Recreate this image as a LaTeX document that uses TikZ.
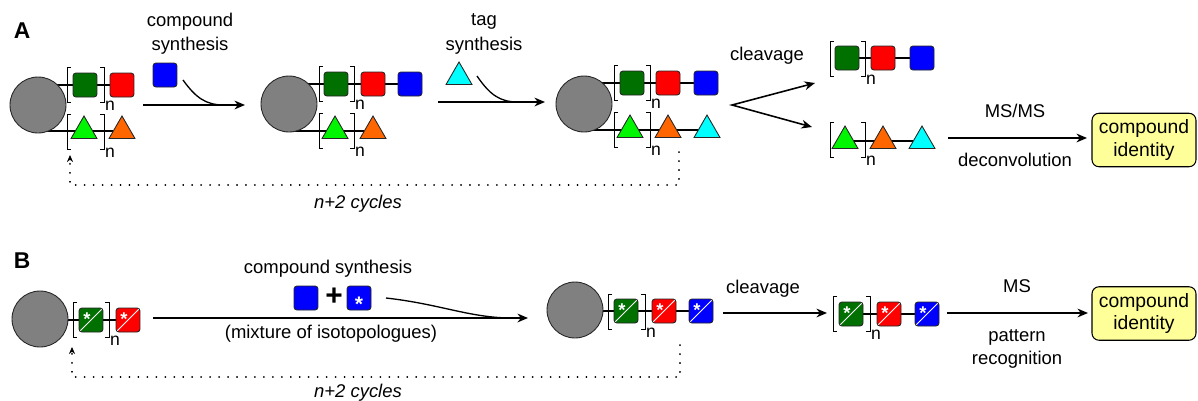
\documentclass[tikz,border=0pt]{standalone}
\usepackage{fontspec}
\setmainfont{Liberation Sans}
\usetikzlibrary{arrows.meta,shapes.geometric,backgrounds,calc}
\definecolor{dgreen}{RGB}{0,112,0}
\definecolor{lgreen}{RGB}{0,245,0}
\definecolor{myorange}{RGB}{255,102,0}
\definecolor{mycyan}{RGB}{0,255,255}
\definecolor{myred}{RGB}{255,0,0}
\definecolor{myblue}{RGB}{0,0,255}
\definecolor{beadgray}{RGB}{128,128,128}
\definecolor{boxyellow}{RGB}{255,255,153}
\newcommand\mybrk[4]{%
  \draw[brk] (#1+4,#3-17.5) -- (#1,#3-17.5) -- (#1,#3+17.5) -- (#1+4,#3+17.5);
  \draw[brk] (#2-4,#3-17.5) -- (#2,#3-17.5) -- (#2,#3+17.5) -- (#2-4,#3+17.5);
  \node[nlab] (#4) at (#2+6,#3+21) {n};
}
\tikzset{
  sq/.style={draw=black!85, line width=0.5pt, rounded corners=1.7pt, minimum size=0.48cm, inner sep=0pt},
  tri/.style={regular polygon, regular polygon sides=3, draw=black!85, line width=0.5pt, minimum size=0.6cm, inner sep=0pt},
  bead/.style={circle, draw=black!85, fill=beadgray, minimum size=1.12cm, inner sep=0pt, line width=0.5pt},
  chain/.style={line width=0.6pt},
  brk/.style={line width=0.5pt},
  rxn/.style={line width=0.9pt, -{Stealth[length=6pt,width=5pt]}},
  curv/.style={line width=0.75pt},
  lbl/.style={font=\fontsize{10.5}{12.5}\selectfont, inner sep=0pt, text height=6pt, text depth=0pt},
  nlab/.style={font=\fontsize{10}{12}\selectfont, inner sep=0pt},
  idbox/.style={draw, fill=boxyellow, rounded corners=4pt, minimum width=2.08cm, minimum height=1.07cm, align=center, font=\fontsize{11}{13}\selectfont, line width=0.6pt, inner sep=0pt},
  loop/.style={dash pattern=on 0.1pt off 5pt, line width=1pt, line cap=round, -{Stealth[length=4pt,width=3.5pt]}},
  star/.style={path picture={
    \draw[white, line width=0.5pt] (path picture bounding box.south west) -- (path picture bounding box.north east);
    \node[text=white, font=\bfseries\fontsize{10.5}{10.5}\selectfont, inner sep=0pt, anchor=base] at ([shift={(-0.08cm,-0.11cm)}]path picture bounding box.center) {*};}},
}
\begin{document}
\begin{tikzpicture}[x=0.02cm,y=-0.02cm]
\useasboundingbox (0,0) rectangle (1198,400);
\node[font=\bfseries\fontsize{13}{15}\selectfont, inner sep=0pt] (labA) at (22,31) {A};
\node[font=\bfseries\fontsize{13}{15}\selectfont, inner sep=0pt] (labB) at (22,261) {B};

% ---------- Panel A ----------
% stage 1
\node[bead] (a1c) at (38,105) {};
\node[sq, fill=dgreen] (a1g) at (85,85) {};
\node[sq, fill=myred] (a1r) at (122,85) {};
\node[tri, fill=lgreen] (a1tg) at (84,131) {};
\node[tri, fill=myorange] (a1to) at (122,131) {};
\mybrk{67}{104}{85}{a1n1}
\mybrk{67}{104}{131.5}{a1n2}
% reagent 1
\node[sq, fill=myblue] (a1b) at (165,75) {};
\node[lbl] (t1a) at (190,21) {compound};
\node[lbl] (t1b) at (190,45) {synthesis};
\coordinate (ar1s) at (143,105);
\coordinate (ar1e) at (245,105);
\draw[rxn] (ar1s) -- (ar1e);
\coordinate (cv1s) at (183,80);
\coordinate (cv1e) at (224,105);
\draw[curv] (cv1s) .. controls (196,98) and (206,105) .. (cv1e);
% stage 2
\node[bead] (a2c) at (289,104) {};
\node[sq, fill=dgreen] (a2g) at (336,84) {};
\node[sq, fill=myred] (a2r) at (373,84) {};
\node[sq, fill=myblue] (a2b) at (410,84) {};
\node[tri, fill=lgreen] (a2tg) at (335,131) {};
\node[tri, fill=myorange] (a2to) at (373,131) {};
\mybrk{319}{354}{84}{a2n1}
\mybrk{319}{354}{131}{a2n2}
% reagent 2
\node[tri, fill=mycyan] (a2cy) at (459,77) {};
\node[lbl] (t2a) at (484,20) {tag};
\node[lbl] (t2b) at (484,45) {synthesis};
\coordinate (ar2s) at (438,102);
\coordinate (ar2e) at (545,102);
\draw[rxn] (ar2s) -- (ar2e);
\coordinate (cv2s) at (477,76);
\coordinate (cv2e) at (518,102);
\draw[curv] (cv2s) .. controls (490,95) and (500,102) .. (cv2e);
% stage 3
\node[bead] (a3c) at (584,104) {};
\node[sq, fill=dgreen] (a3g) at (632,83) {};
\node[sq, fill=myred] (a3r) at (668,83) {};
\node[sq, fill=myblue] (a3b) at (706,83) {};
\node[tri, fill=lgreen] (a3tg) at (630,130) {};
\node[tri, fill=myorange] (a3to) at (668,130) {};
\node[tri, fill=mycyan] (a3tc) at (707,130) {};
\mybrk{614}{650}{83}{a3n1}
\mybrk{614}{650}{130}{a3n2}
% cleavage
\coordinate (vap) at (732,105);
\coordinate (vup) at (815,83);
\coordinate (vdn) at (812,127);
\draw[line width=0.9pt, {Stealth[length=6pt,width=5pt]}-{Stealth[length=6pt,width=5pt]}] (vup) -- (vap) -- (vdn);
\node[lbl] (tcl) at (767,55) {cleavage};
% products
\node[sq, fill=dgreen] (p1g) at (847,58) {};
\node[sq, fill=myred] (p1r) at (883,58) {};
\node[sq, fill=myblue] (p1b) at (922,58) {};
\mybrk{830}{865}{59}{p1n}
\node[tri, fill=lgreen] (p2g) at (845,141) {};
\node[tri, fill=myorange] (p2o) at (883,141) {};
\node[tri, fill=mycyan] (p2c) at (922,141) {};
\mybrk{830}{865}{140}{p2n}
% MS/MS
\coordinate (ms1s) at (948,138);
\coordinate (ms1e) at (1087,138);
\draw[rxn] (ms1s) -- (ms1e);
\node[lbl] (tms1) at (1015,112) {MS/MS};
\node[lbl] (tdec) at (1015,161) {deconvolution};
\node[idbox] (idA) at (1144,140) {compound\\identity};
% loop A
\coordinate (la1) at (679,152);
\coordinate (la2) at (679,185);
\coordinate (la3) at (70,185);
\coordinate (la4) at (70,155);
\draw[loop] (la1) -- (la2) -- (la3) -- (la4);
\node[lbl, font=\itshape\fontsize{10.5}{12.5}\selectfont] (cycA) at (358,203) {n+2 cycles};

% ---------- Panel B ----------
\node[bead] (b1c) at (40,319) {};
\node[sq, fill=dgreen, star] (b1g) at (91,320) {};
\node[sq, fill=myred, star] (b1r) at (128,320) {};
\mybrk{73}{109}{320}{b1n}
% reagents
\node[sq, fill=myblue] (bb1) at (306,298) {};
\node[font=\bfseries\fontsize{17}{17}\selectfont, inner sep=0pt] (plus) at (334,297) {+};
\node[sq, fill=myblue, path picture={\node[text=white, font=\bfseries\fontsize{12}{12}\selectfont, inner sep=0pt, anchor=base] at ([shift={(0cm,-0.27cm)}]path picture bounding box.center) {*};}] (bb2) at (359,298) {};
\node[lbl] (tcs) at (328,268) {compound synthesis};
\node[lbl] (tmix) at (331,333) {(mixture of isotopologues)};
\coordinate (br1s) at (153,318);
\coordinate (br1e) at (528,318);
\draw[rxn] (br1s) -- (br1e);
\coordinate (cvbs) at (386,298);
\coordinate (cvbe) at (512,318);
\draw[curv] (cvbs) .. controls (440,304) and (470,318) .. (cvbe);
% stage B2
\node[bead] (b2c) at (575,310) {};
\node[sq, fill=dgreen, star] (b2g) at (626,311) {};
\node[sq, fill=myred, star] (b2r) at (664,311) {};
\node[sq, fill=myblue, star] (b2b) at (701,311) {};
\mybrk{608}{645}{312}{b2n}
% cleavage B
\coordinate (bcs) at (723,313);
\coordinate (bce) at (827,313);
\draw[rxn] (bcs) -- (bce);
\node[lbl] (tclb) at (763,288) {cleavage};
% product B
\node[sq, fill=dgreen, star] (bpg) at (851,314) {};
\node[sq, fill=myred, star] (bpr) at (889,314) {};
\node[sq, fill=myblue, star] (bpb) at (927,314) {};
\mybrk{833}{870}{314}{bpn}
% MS
\coordinate (ms2s) at (947,313);
\coordinate (ms2e) at (1088,313);
\draw[rxn] (ms2s) -- (ms2e);
\node[lbl] (tms2) at (1017,287) {MS};
\node[lbl] (tpat) at (1017,336) {pattern};
\node[lbl] (trec) at (1017,359) {recognition};
\node[idbox] (idB) at (1144,313.5) {compound\\identity};
% loop B
\coordinate (lb1) at (680,345);
\coordinate (lb2) at (680,377);
\coordinate (lb3) at (72,377);
\coordinate (lb4) at (72,347);
\draw[loop] (lb1) -- (lb2) -- (lb3) -- (lb4);
\node[lbl, font=\itshape\fontsize{10.5}{12.5}\selectfont] (cycB) at (358,392) {n+2 cycles};

% chain lines
\begin{pgfonlayer}{background}
\draw[chain] (a1c.center |- a1g) -- (a1r);
\draw[chain] (a1c.center |- a1tg) -- (a1to);
\draw[chain] (a2c.center |- a2g) -- (a2b);
\draw[chain] (a2c.center |- a2tg) -- (a2to);
\draw[chain] (a3c.center |- a3g) -- (a3b);
\draw[chain] (a3c.center |- a3tg) -- (a3tc);
\draw[chain] (p1g) -- (p1b);
\draw[chain] (p2g) -- (p2c);
\draw[chain] (b1c.center |- b1g) -- (b1r);
\draw[chain] (b2c.center |- b2g) -- (b2b);
\draw[chain] (bpg) -- (bpb);
\end{pgfonlayer}
\end{tikzpicture}
\end{document}
